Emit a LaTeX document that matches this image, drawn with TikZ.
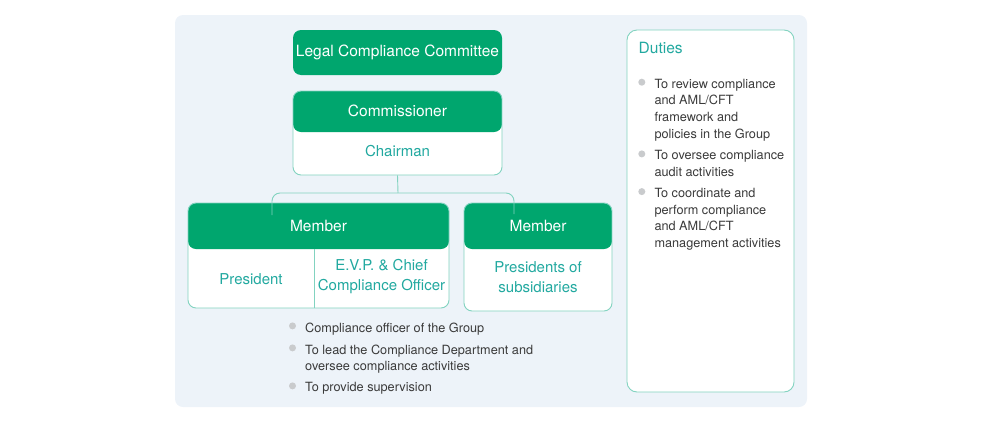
\documentclass[tikz,border=0pt]{standalone}
\usepackage{fontspec}
\setmainfont{TeX Gyre Heros}
\usepackage{xcolor}
\usetikzlibrary{positioning, calc}
\definecolor{brand}{HTML}{00A66E}
\definecolor{tealtxt}{HTML}{22A9A0}
\definecolor{edge}{HTML}{82D3C0}
\definecolor{backdrop}{HTML}{EDF3F9}
\definecolor{ink}{HTML}{3A3A3A}
\definecolor{dotgray}{HTML}{C9CBCD}

\begin{document}
\begin{tikzpicture}[
  x=1pt, y=-1pt,
  topbox/.style={fill=brand, rounded corners=8pt, minimum width=209pt, minimum height=45pt, inner sep=0pt, text=white, font=\fontsize{15.5}{18}\selectfont},
  panel/.style={draw=edge, line width=0.9pt, fill=white, rounded corners=8pt, inner sep=0pt,
    path picture={\fill[brand] (path picture bounding box.north west) rectangle ([yshift=-#1]path picture bounding box.north east);}},
  headtxt/.style={text=white, inner sep=0pt, font=\fontsize{15.5}{20}\selectfont},
  subtxt/.style={text=tealtxt, inner sep=0pt, align=center, font=\fontsize{15}{20}\selectfont},
  item/.style={anchor=north west, inner sep=0pt, align=left, text=ink, font=\fontsize{12.7}{16.7}\selectfont},
  dot/.style={circle, fill=dotgray, inner sep=0pt, minimum size=7pt},
  rule/.style={draw=edge, line width=0.9pt},
  link/.style={draw=edge, line width=0.9pt, rounded corners=8pt},
]
\useasboundingbox (0,0) rectangle (1000,426);
\fill[backdrop, rounded corners=8pt] (175,15) rectangle (807,407);

% committee
\node[topbox] (lcc) at (397.5,52.5) {Legal Compliance Committee};

% commissioner
\node[panel=41pt, minimum width=209pt, minimum height=84pt] (comm) at (397.5,133) {};
\node[headtxt] (commlbl) at ([yshift=-20.5pt]comm.north) {Commissioner};
\node[subtxt] (chair) at ([yshift=24pt]comm.south) {Chairman};

% members
\node[panel=46pt, minimum width=261pt, minimum height=105pt] (memA) at (318.5,255.5) {};
\node[panel=46pt, minimum width=148pt, minimum height=108pt] (memB) at (538,257) {};
\node[headtxt] (memAlbl) at ([yshift=-23.5pt]memA.north) {Member};
\node[headtxt] (memBlbl) at ([yshift=-23.5pt]memB.north) {Member};
\draw[rule] ([xshift=-4.5pt]memA.south) -- ++(0,-59);
\node[subtxt] (pres) at (251,279) {President};
\node[subtxt] (evp) at (381.5,277) {E.V.P. \& Chief\\Compliance Officer};
\node[subtxt] (subs) at (538,277) {Presidents of\\subsidiaries};

% connector
\coordinate (fork) at (398,193);
\coordinate (inA) at (272,215);
\coordinate (inB) at (514,214);
\draw[rule] (comm.south) -- (fork);
\draw[link] (inA) |- (fork) -| (inB);

% president duties
\node[item] (b1) at (305,322.4) {Compliance officer of the Group};
\node[item] (b2) at (305,344.4) {To lead the Compliance Department and\\oversee compliance activities};
\node[item] (b3) at (305,382.4) {To provide supervision};
\foreach \b in {b1,b2,b3}
  \node[dot] at ([xshift=-12.5pt,yshift=-3.5pt]\b.north west) {};

% duties panel
\node[draw=edge, line width=0.9pt, fill=white, rounded corners=10pt, minimum width=167pt, minimum height=362pt, inner sep=0pt] (duty) at (710.5,211) {};
\node[anchor=west, inner sep=0pt, text=tealtxt, font=\fontsize{15.5}{18}\selectfont] (dutyttl) at (638.5,48.3) {Duties};
\node[item] (d1) at (654.3,78.7) {To review compliance\\and AML/CFT\\framework and\\policies in the Group};
\node[item] (d2) at (654.3,150.4) {To oversee compliance\\audit activities};
\node[item] (d3) at (654.3,188.1) {To coordinate and\\perform compliance\\and AML/CFT\\management activities};
\foreach \d in {d1,d2,d3}
  \node[dot] at ([xshift=-12.5pt,yshift=-3.5pt]\d.north west) {};
\end{tikzpicture}
\end{document}
